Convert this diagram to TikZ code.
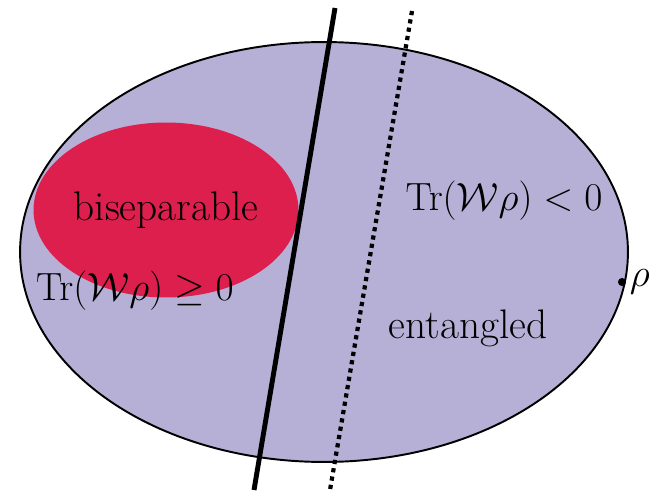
\documentclass[tikz,border=0pt]{standalone}
\usepackage{fix-cm}
\usepackage{amsmath,amssymb}
\usetikzlibrary{shapes.geometric,positioning}
\definecolor{lavender}{RGB}{183,176,214}
\definecolor{crimson}{RGB}{221,31,77}

\begin{document}
\begin{tikzpicture}[x=0.02cm,y=-0.02cm,
    region/.style={ellipse,inner sep=0pt},
    lbl/.style={font=\fontsize{23.5}{28}\selectfont},
    mlbl/.style={font=\fontsize{22.4}{27}\selectfont},
    witness/.style={line width=2.8pt},
    dotwit/.style={line width=2.4pt,dash pattern=on 2.4pt off 2.4pt}]
  \useasboundingbox (0,0) rectangle (658,493);
  % state space and biseparable set
  \node[region,draw=black,line width=1.1pt,fill=lavender,minimum width=12.16cm,minimum height=8.4cm] (space) at (324,252) {};
  \node[region,fill=crimson,minimum width=5.3cm,minimum height=3.5cm] (bisep) at (166,210) {};
  % labels
  \node[lbl] (bisepl) at (166,210) {biseparable};
  \node[mlbl] (pos) at (135,291) {$\mathrm{Tr}(\mathcal{W}\rho)\geq 0$};
  \node[mlbl] (neg) at (504,201) {$\mathrm{Tr}(\mathcal{W}\rho)<0$};
  \node[lbl] (ent) at (468,328) {entangled};
  \fill (622,282) circle (2.3pt) coordinate (rho);
  \node[mlbl,right=1pt of rho] (rhol) {$\rho$};
  % witness hyperplanes
  \coordinate (wtop) at (335,8);
  \coordinate (wbot) at (254,490);
  \coordinate (otop) at (412,11);
  \coordinate (obot) at (330,490);
  \draw[witness] (wtop) -- (wbot);
  \draw[dotwit] (otop) -- (obot);
\end{tikzpicture}
\end{document}
